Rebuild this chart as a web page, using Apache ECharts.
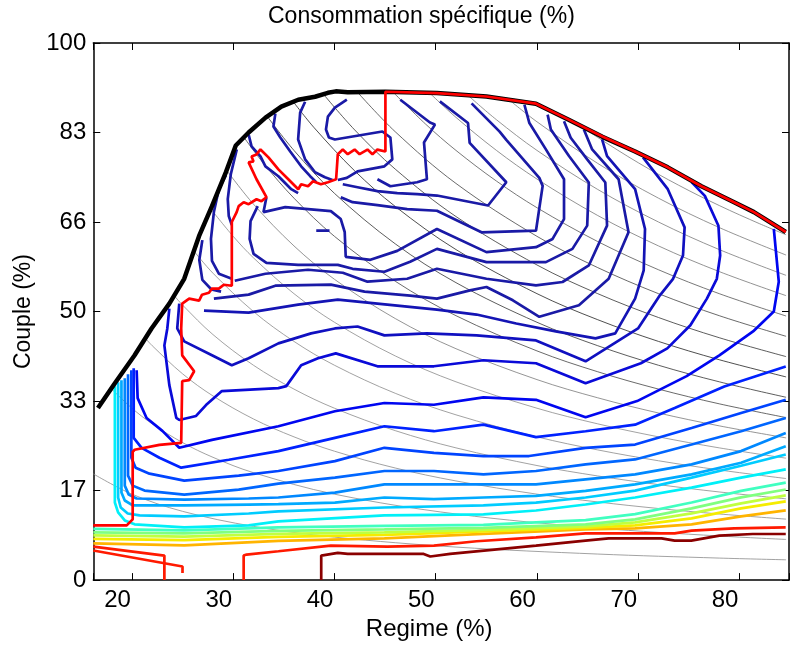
<!DOCTYPE html>
<html>
<head>
<meta charset="utf-8">
<script src="https://cdn.jsdelivr.net/npm/echarts@6/dist/echarts.min.js"></script>
<style>html,body{margin:0;padding:0;background:#fff}#c{width:792px;height:646px}</style>
</head>
<body>
<div id="c"></div>
<script>
const yTickLabels = ['0','17','33','50','66','83','100'];

const fullLoad = [[16.64,32.03],[18.31,36.66],[20.26,41.85],[21.93,46.85],[23.69,51.47],[25.16,56.1],[26.63,64.07],[27.9,69.62],[29.27,75.91],[30.25,80.91],[31.52,83.33],[33.19,86.1],[34.75,88.14],[36.42,89.43],[38.08,89.99],[39.35,90.73],[40.13,91.0],[41.31,90.83],[45.03,90.92],[50.12,90.67],[55.01,90.04],[59.9,88.68],[63.13,85.7],[66.46,82.53],[69.69,79.81],[72.92,76.85],[76.24,73.33],[79.47,70.36],[81.43,68.51],[84.57,64.81]];

const redUpper = [[84.57,64.81],[81.43,68.51],[79.47,70.36],[76.24,73.33],[72.92,76.85],[69.69,79.81],[66.46,82.6],[63.13,85.73],[59.9,88.7],[55.01,90.04],[50.12,90.67],[45.03,90.92],[45.03,79.8],[44.24,80.15],[43.75,79.3],[43.26,80.15],[42.48,79.3],[41.99,80.15],[41.31,79.3],[40.82,80.15],[40.33,79.3],[40.16,74.63],[39.35,74.08],[38.66,73.71],[37.88,74.26],[37.39,73.34],[36.71,73.71],[36.42,72.78],[35.44,74.63],[34.46,76.47],[33.48,78.7],[32.69,80.18],[32.3,79.26],[31.81,78.88],[32.0,77.96],[31.52,77.78],[32.3,74.63],[33.28,71.29],[32.79,70.55],[32.3,70.91],[31.52,69.99],[31.03,70.36],[30.54,69.62],[30.34,68.51],[29.86,66.67],[29.86,54.81],[29.07,54.99],[28.58,54.26],[27.9,54.26],[27.6,53.51],[26.92,53.14],[26.63,52.04],[25.65,52.4],[24.96,51.47],[24.86,46.85],[24.96,41.85],[26.14,38.88],[25.65,37.22],[24.96,37.04],[24.86,25.55],[22.71,25.19],[20.26,24.26],[20.07,23.88],[20.07,11.3],[19.48,10.19],[16.18,10.19]];
const redA = [[16.18,6.24],[23.2,4.57],[23.2,0]];
const redB = [[16.18,5.51],[24.99,2.53],[24.99,1.3]];
const redLow = [[31.03,0],[31.03,4.57],[31.32,4.76],[34.46,5.37],[39.64,6.42],[45.22,6.24],[49.82,6.42],[54.03,7.23],[59.9,7.96],[64.79,8.71],[73.6,8.71],[75.26,9.2],[79.47,9.63],[84.56,9.82]];
const darkRed = [[38.69,0],[38.69,4.57],[40.33,5.06],[41.31,4.87],[48.81,4.87],[49.46,4.39],[51.42,4.87],[59.9,6.42],[64.79,7.36],[67.08,7.78],[72.3,7.78],[73.6,7.36],[75.24,7.36],[78.01,8.28],[81.31,8.58],[84.57,8.58]];

const orange = [[16.18,6.84],[25.16,6.46],[34.46,7.3],[44.93,7.77],[54.71,8.6],[64.8,9.44],[69.69,9.63],[75.27,10.38],[80.16,11.86],[84.57,12.97]];
const yellow = [[16.18,7.67],[25.16,7.45],[34.46,8.05],[44.93,8.42],[54.71,9.07],[64.8,9.72],[69.69,10.19],[75.27,11.48],[80.16,13.35],[84.57,14.66]];
const yellowGreen = [[16.18,8.33],[25.16,8.08],[34.46,8.6],[44.93,8.88],[54.71,9.35],[64.8,10.0],[69.69,10.75],[75.27,12.41],[80.16,14.28],[84.57,15.77]];
const lightGreen = [[16.18,8.88],[25.16,8.7],[34.46,9.16],[44.93,9.44],[54.71,9.72],[64.8,10.38],[69.69,11.3],[75.27,13.35],[80.16,15.4],[84.57,16.86]];
const mint = [[16.18,9.54],[25.16,9.26],[34.46,9.82],[44.93,10.1],[54.71,10.28],[59.9,10.75],[64.8,11.17],[69.69,12.28],[75.27,14.44],[80.16,16.61],[84.57,18.15]];
const cyan = [[18.31,36.1],[18.31,14.44],[18.63,12.6],[19.29,11.11],[20.26,10.38],[25.16,9.82],[31.52,10.19],[34.46,10.92],[44.93,12.04],[54.71,12.22],[59.9,12.96],[64.8,14.07],[69.69,15.38],[75.27,17.22],[80.16,19.07],[84.57,20.61]];
const b7 = [[18.63,36.85],[18.63,15.38],[18.89,13.52],[19.58,12.4],[20.75,12.04],[25.16,11.86],[31.52,12.4],[34.46,12.78],[44.93,13.52],[54.71,13.9],[59.9,14.44],[64.8,15.38],[69.69,16.67],[75.27,19.07],[80.16,21.3],[84.57,23.38]];
const b6 = [[18.96,37.22],[18.96,16.3],[19.29,14.82],[20.07,13.9],[25.16,13.9],[31.52,14.07],[34.46,14.13],[40.04,14.44],[44.93,15.38],[49.82,15.06],[54.71,15.38],[59.9,15.68],[64.8,16.61],[69.69,17.83],[75.27,19.69],[80.16,21.86],[84.57,24.94]];
const b5 = [[19.29,37.59],[19.29,17.59],[19.68,15.92],[20.46,15.19],[25.16,15.0],[31.52,15.19],[34.46,15.38],[40.04,16.3],[44.93,17.83],[49.82,17.83],[54.71,17.83],[59.9,17.83],[64.8,18.77],[69.69,19.69],[75.27,21.54],[80.16,24.02],[84.57,27.4]];
const b4 = [[19.61,38.33],[19.61,19.44],[20.07,17.59],[21.24,16.67],[25.16,15.92],[30.54,16.86],[34.46,17.96],[40.04,19.07],[44.93,20.31],[49.82,20.31],[54.71,19.69],[59.9,20.31],[64.8,21.54],[69.69,22.46],[75.27,25.24],[80.16,27.72],[84.57,30.19]];
const b3 = [[19.94,39.08],[19.94,22.78],[20.36,20.93],[21.73,19.82],[25.16,18.52],[30.54,19.44],[34.46,20.31],[40.04,22.16],[44.93,24.63],[49.82,23.7],[54.71,23.1],[59.22,23.1],[64.8,24.63],[69.69,25.24],[75.27,28.33],[80.16,31.11],[84.57,33.57]];
const b2 = [[20.17,39.44],[20.17,26.49],[20.95,24.63],[22.71,22.78],[24.86,20.93],[29.56,22.41],[34.46,24.02],[40.04,26.49],[44.93,28.65],[49.82,27.72],[54.71,28.94],[59.9,26.62],[64.8,27.72],[69.69,28.94],[73.6,32.04],[78.5,36.06],[84.57,39.77]];
const b1 = [[20.46,39.08],[20.56,33.89],[21.44,30.19],[23.0,27.78],[24.67,24.63],[27.9,26.11],[34.46,28.65],[40.04,31.43],[44.93,32.97],[49.82,32.65],[54.71,34.02],[59.9,33.57],[64.8,30.31],[69.89,33.33],[74.78,37.97],[78.01,41.85],[81.34,46.3],[83.39,50.0],[83.88,55.56],[83.39,65.37]];
const l2 = [[75.27,74.1],[76.58,71.54],[77.92,65.98],[78.09,60.43],[77.76,56.1],[76.78,52.4],[75.15,47.46],[72.87,43.14],[70.26,40.37],[64.8,36.67],[59.9,40.37],[54.71,40.93],[49.82,39.81],[44.24,39.81],[40.13,42.22],[38.37,41.3],[36.71,40.0],[35.24,36.11],[34.46,35.74],[28.88,35.19],[27.31,32.59],[26.33,30.56],[24.67,29.81],[24.38,30.19],[23.69,36.3],[23.2,43.7],[23.49,46.85],[23.69,50.56]];
const l1 = [[70.47,78.7],[72.92,72.78],[74.58,65.68],[74.42,60.43],[73.44,56.1],[72.14,53.02],[69.98,46.85],[64.8,40.74],[59.9,44.63],[54.03,45.56],[49.13,45.93],[44.93,45.56],[42.28,47.22],[40.04,46.85],[37.69,45.93],[34.46,44.07],[31.52,41.3],[29.86,40.0],[27.9,41.85],[25.16,44.44],[24.47,46.85],[24.67,51.47]];
const r1 = [[50.41,89.12],[53.19,85.1],[53.35,81.4],[56.97,74.07],[55.17,69.75],[50.12,71.6],[48.16,71.85],[46.2,72.04],[44.24,72.41],[42.28,73.15],[40.82,73.7]];
const r2 = [[53.54,88.76],[56.31,83.5],[56.97,81.97],[60.23,74.89],[60.56,73.4],[59.9,65.05],[54.52,64.75],[50.12,68.77],[47.18,69.07],[44.24,69.81],[41.79,70.37],[40.62,71.3]];
const r3 = [[58.76,88.5],[59.25,85.1],[60.88,80.19],[62.67,74.63],[62.67,67.22],[61.54,63.52],[59.9,61.98],[55.01,61.06],[50.12,65.37],[46.2,61.3],[43.55,59.63],[41.11,60.19],[41.01,64.81],[40.62,67.22],[39.64,68.7],[37.39,69.07],[35.14,69.44],[32.99,68.52],[33.28,71.3]];
const r4 = [[61.05,86.66],[61.37,83.9],[63.16,78.95],[65.12,74.02],[64.96,66.0],[63.5,61.67],[60.88,59.2],[55.01,59.2],[50.12,61.67],[47.47,59.26],[44.93,57.41],[41.79,57.96],[40.33,58.7],[36.41,58.7],[33.28,59.07],[32.01,60.74],[31.62,63.52],[31.71,66.85],[32.42,69.63]];
const r5 = [[62.67,85.42],[63.33,82.35],[64.96,78.33],[66.75,74.02],[66.92,66.0],[65.12,58.58],[62.52,55.5],[59.9,54.87],[55.01,56.11],[50.12,57.96],[47.18,56.11],[43.26,55.56],[40.82,57.22],[37.39,57.78],[33.18,57.04],[30.15,55.74]];
const r6 = [[64.63,83.9],[65.45,80.19],[68.06,74.63],[69.04,64.77],[67.08,56.11],[64.14,51.17],[60.23,49.02],[57.62,52.09],[55.01,54.58],[53.38,53.95],[50.12,52.41],[47.47,52.96],[42.97,53.7],[39.64,55.0],[34.16,54.81],[31.52,53.15],[28.09,52.41]];
const r7 = [[66.43,82.05],[66.92,78.95],[69.69,72.78],[70.67,65.37],[70.54,57.65],[69.69,52.41],[67.73,45.93],[65.78,45.0],[61.86,46.3],[57.95,47.78],[54.03,49.44],[50.12,50.37],[46.2,51.11],[40.33,52.22],[36.41,51.3],[31.52,49.81],[27.11,50.19]];
const e1 = [[46.5,89.44],[49.43,85.19],[49.92,84.81],[48.84,81.48],[49.13,74.63],[48.16,74.07],[45.52,73.33],[44.24,74.63]];
const a1 = [[31.52,82.96],[31.81,80.74],[32.69,78.89],[33.18,77.04],[34.46,75.19],[35.73,72.78],[36.41,72.04]];
const a2 = [[34.16,86.85],[33.97,84.44],[34.65,82.41],[35.63,79.81],[36.71,77.04],[37.6,75.2],[38.2,74.1]];
const a3 = [[37.1,89.07],[36.61,87.04],[36.41,82.04],[37.1,78.33],[38.08,75.93],[39.06,75.0],[39.8,74.5]];
const a4 = [[41.22,89.44],[40.04,87.96],[39.35,86.3],[39.16,83.89],[39.45,82.41],[40.04,82.04],[44.73,83.52],[45.52,82.41],[45.71,78.33],[44.93,77.04],[42.28,76.11],[41.22,74.9],[40.33,74.5]];
const c0 = [[30.35,80.19],[29.76,75.56],[29.46,70.93],[29.56,67.78],[29.86,66.11]];
const c1 = [[29.27,75.37],[28.58,72.78],[28.09,68.52],[27.8,63.52],[27.9,59.44],[28.58,57.04],[29.86,56.11]];
const c2 = [[26.95,63.3],[26.65,59.6],[26.95,55.9],[27.85,54.1],[28.8,53.7]];
const dash = [[38.2,65.05],[39.51,65.05]];

const isoPower = [
  [[16.18,19.78],[20,16.0],[25,12.8],[32,10.0],[40,8.0],[52,6.15],[66,4.85],[78,4.1],[84.6,3.78]],
  [[17.95,35.65],[20,32.0],[22,29.09],[25,25.6],[28,22.86],[32,20.0],[40,16.0],[52,12.31],[66,9.7],[78,8.21],[84.6,7.57]],
  [[21.3,45.07],[22,43.64],[25,38.4],[28,34.29],[32,30.0],[36,26.67],[40,24.0],[46,20.87],[52,18.46],[60,16.0],[66,14.55],[72,13.33],[78,12.31],[84.6,11.35]],
  [[24.15,53.0],[25,51.2],[28,45.71],[32,40.0],[36,35.56],[40,32.0],[46,27.83],[52,24.62],[60,21.33],[66,19.39],[72,17.78],[78,16.41],[84.6,15.13]],
  [[26.1,61.3],[28,57.14],[32,50.0],[36,44.44],[40,40.0],[46,34.78],[52,30.77],[60,26.67],[66,24.24],[72,22.22],[78,20.51],[84.6,18.91]],
  [[27.8,69.06],[30,64.0],[32,60.0],[36,53.33],[40,48.0],[46,41.74],[52,36.92],[60,32.0],[66,29.09],[72,26.67],[78,24.62],[84.6,22.7]],
  [[29.35,76.3],[32,70.0],[36,62.22],[40,56.0],[46,48.7],[52,43.08],[60,37.33],[66,33.94],[72,31.11],[78,28.72],[84.6,26.48]],
  [[31.05,82.45],[33,77.58],[36,71.11],[40,64.0],[46,55.65],[52,49.23],[60,42.67],[66,38.79],[72,35.56],[78,32.82],[84.6,30.26]],
  [[33.35,86.36],[36,80.0],[40,72.0],[46,62.61],[52,55.38],[60,48.0],[66,43.64],[72,40.0],[78,36.92],[84.6,34.04]],
  [[35.9,89.14],[38,84.21],[42,76.19],[46,69.57],[52,61.54],[60,53.33],[66,48.48],[72,44.44],[78,41.03],[84.6,37.83]],
  [[38.9,90.49],[42,83.81],[46,76.52],[52,67.69],[60,58.67],[66,53.33],[72,48.89],[78,45.13],[84.6,41.61]],
  [[42.3,90.78],[46,83.48],[52,73.85],[60,64.0],[66,58.18],[72,53.33],[78,49.23],[84.6,45.39]],
  [[45.8,90.83],[49,84.9],[52,80.0],[56,74.29],[60,69.33],[66,63.03],[72,57.78],[78,53.33],[84.6,49.17]],
  [[49.4,90.69],[52,86.15],[56,80.0],[60,74.67],[66,67.88],[72,62.22],[78,57.44],[84.6,52.96]],
  [[53.2,90.23],[56,85.71],[60,80.0],[66,72.73],[72,66.67],[78,61.54],[84.6,56.74]],
  [[57.3,89.35],[60,85.33],[66,77.58],[72,71.11],[78,65.64],[84.6,60.52]],
  [[64.5,84.34],[66,82.42],[70,77.71],[74,73.51],[78,69.74],[82,66.34],[84.6,64.3]]
];
const isoPowerColors = ['#8a8a8a','#8a8a8a','#8a8a8a','#8a8a8a','#8a8a8a','#8a8a8a','#7a7a7a','#444','#333','#222','#333','#444','#555','#777','#7a7a7a','#7a7a7a','#7a7a7a'];

const NAVY = '#1a1aa6';
const contours = [
  [orange,'#ffb400'],[yellow,'#f5ec00'],[yellowGreen,'#c0ff40'],[lightGreen,'#80ff80'],[mint,'#40ffc0'],
  [cyan,'#00f0f8'],[b7,'#00ccff'],[b6,'#00aaff'],[b5,'#0088ff'],[b4,'#0066ff'],[b3,'#0044ff'],[b2,'#0022ff'],[b1,'#0006f0'],
  [l2,'#0a0ad8'],[l1,'#1010c0'],[r7,'#1414b4'],[r6,NAVY],[r5,NAVY],[r4,NAVY],[r3,NAVY],[r2,NAVY],[r1,NAVY],[e1,NAVY],[dash,NAVY],
  [a1,NAVY],[a2,NAVY],[a3,NAVY],[a4,NAVY],[c0,NAVY],[c1,NAVY],[c2,NAVY],
  [darkRed,'#8a0000'],[redLow,'#ff1a00'],[redA,'#ff1a00'],[redB,'#ff1a00']
];

const FONT = 'Liberation Sans, Arial, sans-serif';
const series = [];
isoPower.forEach((d,i) => series.push({type:'line', data:d, symbol:'none', smooth:0.35, silent:true, animation:false, z:2, lineStyle:{color:isoPowerColors[i], width:0.8}}));
contours.forEach(([d,c]) => series.push({type:'line', data:d, symbol:'none', silent:true, animation:false, z:3, lineStyle:{color:c, width:2.7}}));
series.push({type:'line', data:fullLoad, symbol:'none', silent:true, animation:false, z:5, lineStyle:{color:'#000', width:4.5}});
series.push({type:'line', data:redUpper, symbol:'none', silent:true, animation:false, z:6, lineStyle:{color:'#ff0000', width:2.7}});

const chart = echarts.init(document.getElementById('c'), null, {renderer:'canvas'});
const axisCommon = {
  axisLine:{show:true, onZero:false, lineStyle:{color:'#000', width:1.5}},
  axisTick:{show:true, inside:true, length:7, lineStyle:{color:'#000', width:1}},
  splitLine:{show:false}
};
const X_MIN = 16.18, X_MAX = 84.89;
chart.setOption({
  animation:false,
  backgroundColor:'#fff',
  title:{text:'Consommation spécifique (%)', left:268, top:0, padding:[5,0,0,0], textStyle:{fontFamily:FONT, fontSize:23, fontWeight:'normal', color:'#000'}},
  grid:{left:93.3, top:43, width:702, height:540},
  xAxis:[
    Object.assign({type:'value', position:'bottom', min:X_MIN, max:X_MAX, splitNumber:7,
      axisLabel:{fontFamily:FONT, fontSize:24, color:'#000', margin:8, padding:[0,29,0,0],
        formatter:v => (Math.abs(v/10 - Math.round(v/10)) < 1e-6 ? String(Math.round(v)) : '')},
      name:'Regime (%)', nameLocation:'middle', nameGap:35,
      nameTextStyle:{fontFamily:FONT, fontSize:24, color:'#000', padding:[0,24,0,0]}}, axisCommon),
    Object.assign({type:'value', position:'top', min:X_MIN, max:X_MAX, splitNumber:7, axisLabel:{show:false}}, axisCommon)
  ],
  yAxis:[
    Object.assign({type:'value', position:'left', min:0, max:100, interval:100/6,
      axisLabel:{fontFamily:FONT, fontSize:24, color:'#000', margin:7,
        formatter:v => yTickLabels[Math.round(v/(100/6))]},
      name:'Couple (%)', nameLocation:'middle', nameGap:54,
      nameTextStyle:{fontFamily:FONT, fontSize:23, color:'#000'}}, axisCommon),
    Object.assign({type:'value', position:'right', min:0, max:100, interval:100/6, axisLabel:{show:false}}, axisCommon)
  ],
  series:series
});
</script>
</body>
</html>
